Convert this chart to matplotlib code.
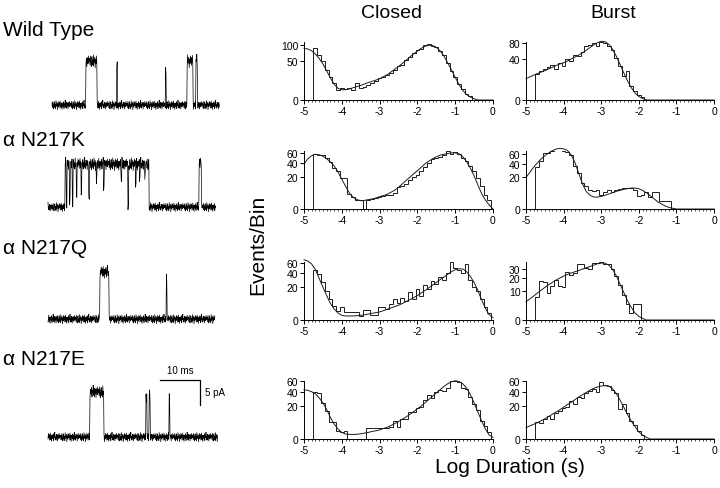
import numpy as np
import matplotlib.pyplot as plt
from matplotlib.ticker import MultipleLocator

plt.rcParams['font.family'] = ['Liberation Sans', 'DejaVu Sans']
plt.rcParams['axes.unicode_minus'] = False

# --- Histogram data (events per bin, log10 duration bins of 0.1) ---
bin_edges = np.arange(-4.75, 0.0, 0.1)      # 47 bins, -4.75 .. -0.05
fit_x = np.linspace(-5.0, 0.0, 51)          # fitted curve sampled every 0.1

wt_closed_counts = [88, 68, 50, 30, 17, 9, 3.5, 4.5, 4, 4.5, 3.5, 9, 5, 6, 7, 10, 12, 16,
                    17, 20, 24, 30, 38, 40, 52, 60, 72, 82, 85, 100, 104, 96, 92, 78, 66, 44,
                    28, 18, 8, 4, 1, 0.5, 0, 0, 0, 0, 0]
wt_closed_fit = [88, 86, 80, 70, 57, 43, 28, 16, 8, 4.5, 3.5, 3.5, 4, 5, 6, 7, 8.5, 10, 11.5,
                 13, 15, 18, 21, 26, 31, 37, 44, 52, 61, 70, 79, 88, 95, 99, 98, 92, 80, 64,
                 46, 30, 17, 8, 3, 1, 0.3, 0.05, 0, 0, 0, 0, 0]

wt_burst_counts = [17, 21, 24, 26, 30, 24, 33, 28, 40, 38, 50, 48, 56, 72, 74, 78, 72, 82,
                   78, 72, 60, 44, 28, 14, 20, 5, 2, 0.6, 0.2] + [0] * 18
wt_burst_fit = [11, 13, 15, 17, 19, 21, 23.5, 26, 29, 31.5, 34, 37, 41, 45, 49, 54, 60, 67,
                74, 80, 84, 83, 76, 63, 47, 31, 18, 9, 3.7, 1.2, 0.3, 0.05] + [0] * 19

k_closed_counts = [57, 55, 55, 49, 42, 32, 27, 18, 18, 4.3, 2.6, 1.7, 1.5, 0, 1.7, 2, 2.3,
                   2.6, 3, 3.5, 4, 5, 9, 10, 12, 16, 20, 22, 28, 34, 40, 48, 50, 52, 55, 63,
                   58, 62, 58, 50, 44, 36, 27, 18, 10, 4, 1.5]
k_closed_fit = [38.7, 47.8, 54, 57, 56, 53, 48, 42, 35, 26, 17, 9.8, 4.9, 2.6, 1.7, 1.3, 1.4,
                1.7, 1.9, 2.3, 2.9, 3.4, 4.1, 5.3, 6.7, 9, 12, 15.4, 19.2, 23.4, 28, 33, 38.7,
                43.5, 47.8, 51.7, 55, 57, 58.6, 60, 60, 58, 52, 43, 32, 21, 11, 4.5, 1.5, 0.3, 0]

k_burst_counts = [35, 46, 61, 61, 67, 69, 70, 67, 63, 58, 36, 25, 13, 10, 7.3, 6.6, 7.3, 4,
                  6, 7.3, 5.7, 6.8, 8.1, 8.6, 8.6, 8.4, 7.3, 3.1, 4, 6, 3, 6, 6, 1.2, 1.2,
                  1.2] + [0] * 11
k_burst_fit = [19.6, 26, 34, 41.5, 49, 55.7, 61.5, 66.7, 70.5, 72, 71, 67.5, 57.8, 42.7, 25.4,
               12.6, 6.1, 3.7, 2.8, 2.8, 3.1, 3.7, 4.4, 5.2, 6.1, 6.8, 7.6, 8.1, 8.6, 8.6, 8.1,
               6.8, 5.2, 3.5, 2.1, 1.05, 0.5, 0.18, 0.05, 0.01] + [0] * 11

q_closed_counts = [47, 39, 26, 16, 8, 3.5, 1.5, 3.2, 1.2, 1.2, 1.2, 1.2, 0.3, 1.8, 1.8, 0.4,
                   0.4, 3, 3, 2.2, 4.5, 8.5, 5.5, 9, 7, 14, 8, 18, 11, 22, 18, 28, 24, 34, 30,
                   40, 62, 50, 46, 40, 57, 30, 20, 16, 8, 3, 1]
q_closed_fit = [67, 64, 58, 47, 32, 20, 11, 5, 2.2, 0.9, 0.4, 0.3, 0.3, 0.3, 0.35, 0.4, 0.5,
                0.65, 0.8, 1.0, 1.2, 1.6, 2.1, 2.7, 3.3, 4, 5, 6.2, 7.6, 9.2, 11, 13.5, 16, 19,
                22.5, 26, 30, 34, 38.5, 43, 46.5, 48.5, 48, 43, 35, 26, 16, 7.5, 2.5, 0.5, 0.1]

q_burst_counts = [5.9, 17.8, 16.4, 8.2, 13.6, 18.8, 13.6, 12.3, 27, 23.4, 26, 36, 36, 30.8,
                  30, 37.5, 37.5, 38.4, 36, 36, 30, 22, 14, 7, 3, 0.5, 3, 3] + [0] * 19
q_burst_fit = [3.9, 5.1, 6.6, 8.4, 10.2, 12.3, 14.4, 16.4, 18.5, 20.4, 22.3, 24, 25.5, 27,
               28.4, 30, 31.6, 33.2, 34.9, 36.6, 37.5, 37.5, 34.9, 30, 22.7, 15, 8.8, 4.3,
               1.85, 0.57, 0.16, 0.03] + [0] * 19

e_closed_counts = [40, 38, 24, 14, 5.3, 5.3, 1.2, 0.8, 1.2, 0, 0, 0, 0, 0, 2, 2, 2, 2, 2.2,
                   2.3, 2.5, 6, 2.7, 7, 7.5, 13, 13, 17, 18, 27, 35, 30, 40, 44, 42, 47, 62,
                   60, 58, 48, 45, 32, 22, 15, 6, 3, 0.8]
e_closed_fit = [44, 43, 40.6, 37.3, 30.6, 23.7, 15.9, 8.3, 4.0, 1.8, 0.8, 0.44, 0.4, 0.38, 0.4,
                0.5, 0.63, 0.78, 1.04, 1.22, 1.5, 2.0, 2.5, 3.3, 4.3, 5.5, 7.1, 8.8, 11, 13.5,
                16.6, 19.6, 23.7, 28.2, 33, 38.4, 44, 50, 55.3, 59.3, 61.4, 60, 55.3, 47, 35.7,
                23.7, 13.2, 5.9, 1.8, 0.28, 0.05]

e_burst_counts = [5, 4.5, 7.5, 9.5, 7.5, 12, 14, 17, 19, 26, 22, 32, 30, 38, 42, 45, 40, 58,
                  52, 50, 44, 38, 16, 22, 12, 6, 3.5, 1.2, 0.3] + [0] * 18
e_burst_fit = [2.35, 3.1, 3.9, 4.8, 6.0, 7.4, 9.1, 11.1, 13.2, 15.5, 18.4, 21.5, 24.5, 28,
               31.9, 35.4, 39.2, 43.1, 46.6, 49, 50.9, 51.5, 50.9, 46, 37.5, 27.6, 18.4, 10.8,
               5.8, 2.8, 0.93, 0.28, 0.05] + [0] * 18

panels = [
    [(wt_closed_counts, wt_closed_fit, [0, 50, 100], 111),
     (wt_burst_counts, wt_burst_fit, [0, 40, 80], 82)],
    [(k_closed_counts, k_closed_fit, [0, 20, 40, 60], 64),
     (k_burst_counts, k_burst_fit, [0, 20, 40, 60], 66)],
    [(q_closed_counts, q_closed_fit, [0, 20, 40, 60], 62),
     (q_burst_counts, q_burst_fit, [0, 10, 20, 30], 39)],
    [(e_closed_counts, e_closed_fit, [0, 20, 40, 60], 61),
     (e_burst_counts, e_burst_fit, [0, 20, 40, 60], 61)],
]

# --- Single-channel traces (ms, fraction of open level) ---
row_names = ['Wild Type', '\u03b1 N217K', '\u03b1 N217Q', '\u03b1 N217E']
trace_spans = [(1.0, 43.0), (0.0, 42.0), (0.0, 41.8), (0.0, 42.5)]
open_amp = [8.8, 8.6, 9.4, 9.0]   # pA
wt_events = [(9.5, 12.25, 1.0), (17.2, 17.4, 0.86), (29.4, 29.6, 0.75),
             (34.75, 36.25, 1.0), (37.0, 37.4, 1.0)]
k_events = [(4.25, 25.3, 1.0), (4.6, 4.8, -0.95), (5.4, 5.6, -0.9), (6.1, 6.3, -0.9),
            (7.1, 7.3, -0.65), (8.3, 8.5, -0.6), (10.2, 10.4, -0.8), (12.1, 12.3, -0.4),
            (13.9, 14.1, -0.55), (18.3, 18.5, -0.4), (20.0, 20.2, -1.0), (21.9, 22.1, -0.45),
            (22.9, 23.1, -0.3), (24.2, 24.35, -0.3), (37.8, 38.4, 1.05)]
q_events = [(13.0, 15.3, 1.0), (29.6, 29.8, 0.9)]
e_events = [(10.5, 14.0, 1.0), (24.5, 24.8, 0.9), (25.3, 25.6, 0.9), (30.3, 30.5, 0.95)]
trace_events = [wt_events, k_events, q_events, e_events]
# baseline noise, typed by hand (pA)
noise = [0.5, -0.7, 0.9, -0.3, -1.0, 0.4, 0.8, -0.6, 0.2, -0.9, 1.1, -0.4, 0.1, 0.7, -1.2,
         0.3, -0.5, 0.9, -0.2, 0.6, -0.8, 0.0, 1.0, -0.7, 0.4, -1.1, 0.5, 0.2, -0.4, 0.8,
         -0.9, 0.3, -0.1, 1.2, -0.6, 0.1, -0.8, 0.7, -0.3, 0.5, -1.0, 0.6, 0.2, -0.5, 0.9,
         -0.2, 0.4]

W, H = 720, 489
fig = plt.figure(figsize=(W / 100, H / 100), dpi=100)


def px_rect(left, top, width, height):
    return [left / W, 1 - (top + height) / H, width / W, height / H]


def sqrt_fwd(v):
    return np.sqrt(np.maximum(v, 0))


def sqrt_inv(v):
    return np.square(v)


# --- Histograms ---
col_left = [304, 526]
col_width = [189, 188]
row_zero = [101, 210, 321, 440]
ink = '#1c1c1c'

for r, row in enumerate(panels):
    for c, (counts, fit, yticks, ytop) in enumerate(row):
        ax = fig.add_axes(px_rect(col_left[c], row_zero[r] - 58, col_width[c], 58))
        ax.set_yscale('function', functions=(sqrt_fwd, sqrt_inv))
        ax.stairs(counts, bin_edges, baseline=0, color=ink, lw=0.7)
        ax.plot(fit_x, fit, color=ink, lw=0.7, clip_on=False)
        ax.set_xlim(-5, 0)
        ax.set_ylim(0, ytop)
        ax.set_xticks(range(-5, 1))
        ax.set_yticks(yticks)
        ax.xaxis.set_minor_locator(MultipleLocator(0.1))
        ax.yaxis.set_minor_locator(plt.NullLocator())
        ax.tick_params(which='major', length=3, width=0.7, labelsize=7.5, pad=1)
        ax.tick_params(axis='x', which='minor', length=1.5, width=0.5)
        for side in ['top', 'right']:
            ax.spines[side].set_visible(False)
        for side in ['left', 'bottom']:
            ax.spines[side].set_linewidth(0.7)

# --- Traces ---
trace_base = [106, 208, 320, 438]
for i, events in enumerate(trace_events):
    ax = fig.add_axes(px_rect(40, trace_base[i] - 65, 190, 80))
    t = np.arange(trace_spans[i][0], trace_spans[i][1], 0.1)
    level = np.zeros_like(t)
    for start, end, frac in events:
        level[(t >= start) & (t < end)] += frac
    jitter = np.roll(np.resize(noise, len(t)), 11 * i)
    current = open_amp[i] * level + 0.8 * jitter * (1 + 0.4 * np.clip(level, 0, 1))
    ax.plot(t, current, color='k', lw=0.5)
    ax.set_xlim(-2, 45.5)
    ax.set_ylim(-3, 13)
    ax.axis('off')
    if i == 3:
        # scale bar: 10 ms, 5 pA
        ax.plot([28, 38, 38], [11.4, 11.4, 6.4], color='k', lw=0.9, clip_on=False)
        ax.text(33, 12.3, '10 ms', ha='center', va='bottom', fontsize=7)
        ax.text(39.2, 8.9, '5 pA', ha='left', va='center', fontsize=7)

label_y = [30, 140, 248, 360]
for name, y in zip(row_names, label_y):
    fig.text(3 / W, 1 - y / H, name, ha='left', va='center', fontsize=15)

fig.text(392 / W, 1 - 13 / H, 'Closed', ha='center', va='center', fontsize=14)
fig.text(613 / W, 1 - 13 / H, 'Burst', ha='center', va='center', fontsize=14)
fig.text(258 / W, 1 - 245 / H, 'Events/Bin', ha='center', va='center', rotation=90,
         fontsize=15)
fig.text(510 / W, 1 - 468 / H, 'Log Duration (s)', ha='center', va='center', fontsize=15)

fig.savefig('out.png', dpi=100)
